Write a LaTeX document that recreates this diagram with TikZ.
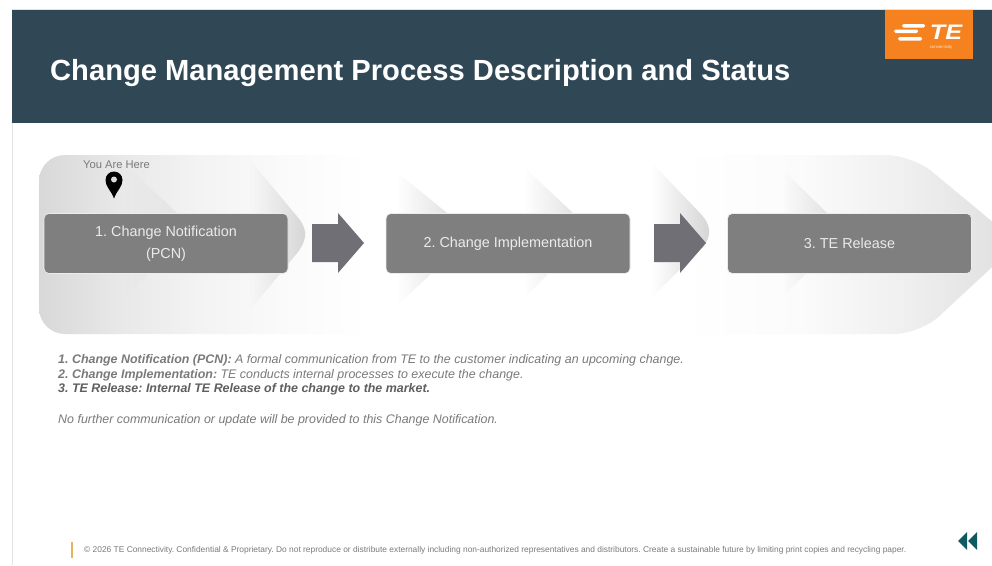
\documentclass[tikz,border=0pt]{standalone}
\usepackage{fontspec}
\setmainfont{Liberation Sans}
\usetikzlibrary{fadings}
\frenchspacing
\definecolor{headbg}{HTML}{304755}
\definecolor{logoor}{HTML}{F5821F}
\definecolor{boxgr}{HTML}{7F7F7F}
\definecolor{arrgr}{HTML}{6F6F75}
\definecolor{foldgr}{HTML}{D4D4D4}
\definecolor{foldlt}{HTML}{E4E4E4}
\definecolor{txtgr}{HTML}{7A7A7A}
\definecolor{txtdk}{HTML}{5F5F5F}
\definecolor{teal0}{HTML}{0F5A60}
\definecolor{barye}{HTML}{E8B35A}
\definecolor{edgegr}{HTML}{E2E2E2}
\definecolor{b0}{HTML}{D8D8D8}
\definecolor{b1}{HTML}{E8E8E8}
\definecolor{b2}{HTML}{F3F3F3}
\definecolor{b3}{HTML}{FAFAFA}
\definecolor{b4}{HTML}{FEFEFE}
\definecolor{r1}{HTML}{FBFBFB}
\definecolor{r2}{HTML}{F0F0F0}
\definecolor{r3}{HTML}{DEDEDE}
\pgfdeclarehorizontalshading{basegrad}{100bp}{color(0bp)=(b0); color(25bp)=(b0); color(29.1bp)=(b1); color(33.2bp)=(b2); color(37.3bp)=(b3); color(40.9bp)=(b4); color(41.9bp)=(white); color(57.7bp)=(white); color(63.9bp)=(r1); color(69bp)=(r2); color(75bp)=(r3); color(100bp)=(r3)}
\tikzfading[name=foldfade, left color=transparent!100, middle color=transparent!78, right color=transparent!0]
\tikzset{
  fold/.style={fill=foldgr, path fading=foldfade},
  foldsoft/.style={fill=foldlt, path fading=foldfade},
  stagebox/.style={draw=white!85!boxgr, line width=0.6pt, fill=boxgr, rounded corners=5pt, minimum width=244pt, minimum height=60pt, inner sep=0pt, align=center, text=white!92!black, font=\fontsize{14.4}{22}\selectfont},
  blockarrow/.style={fill=arrgr},
  desc/.style={anchor=west, inner sep=0pt, text=txtgr, font=\fontsize{12.44}{14}\selectfont\itshape},
}
\begin{document}
\begin{tikzpicture}[x=1pt,y=-1pt]
\useasboundingbox (0,0) rectangle (992,565);
\fill[white] (0,0) rectangle (992,565);
% slide edges
\fill[edgegr] (12,9) rectangle (992,10);
\fill[edgegr] (12,123) rectangle (12.8,565);
% header
\fill[headbg] (12,10) rectangle (992,123);
\node[anchor=west, inner sep=0pt, text=white, font=\fontsize{29.15}{32}\selectfont\bfseries] (title) at (50,73.5) {Change Management Process Description and Status};
% logo
\fill[logoor] (885,10) rectangle (973,59);
\fill[white,rounded corners=1.5pt] (902,24) rectangle (925,27.5);
\fill[white,rounded corners=1.5pt] (894,29.5) rectangle (918,33);
\fill[white,rounded corners=1.5pt] (898,37) rectangle (922,40.5);
\node[inner sep=0pt, text=white, font=\fontsize{21}{21}\selectfont\bfseries\itshape] (logote) at (946,32) {\scalebox{1.2}[1]{TE}};
\node[inner sep=0pt, text=white!80!logoor, font=\fontsize{4.3}{5}\selectfont] (logosub) at (941,47.5) {connectivity};
% background band
\begin{scope}
\clip (0,0) rectangle (992,565);
\shade[shading=basegrad, rounded corners=26pt] (39,155) -- (912,155) -- (1018,243) -- (920,334) -- (39,334) -- cycle;
\end{scope}
% folds
\path[foldsoft] (125,165) -- (177,213) -- (150,273) -- (125,295) -- cycle;
\path[fold] (250,160) -- (295,214) .. controls (308,228) and (308,238) .. (298,252) -- (250,310) -- cycle;
\path[foldsoft] (397,172) -- (447,213) -- (430,275) -- (397,305) -- cycle;
\path[foldsoft] (524,167) -- (573,213) -- (547,275) -- (524,298) -- cycle;
\path[fold] (652,163) -- (698,211) .. controls (712,225) and (712,235) .. (703,247) -- (652,297) -- cycle;
\path[foldsoft] (783,170) -- (827,213) -- (805,275) -- (783,295) -- cycle;
% stages
\node[stagebox] (s1) at (166,243.5) {\raisebox{-1.5pt}{\begin{tabular}{@{}c@{}}1. Change Notification\\(PCN)\end{tabular}}};
\node[stagebox] (s2) at (508,243.5) {\raisebox{-1pt}{2. Change Implementation}};
\node[stagebox] (s3) at (849.5,243.5) {\raisebox{-0.5pt}{3. TE Release}};
% block arrows
\fill[blockarrow] (312,224) -- (338,224) -- (338,213) -- (364,243) -- (338,273) -- (338,262) -- (312,262) -- cycle;
\fill[blockarrow] (654,224) -- (680,224) -- (680,213) -- (706,243) -- (680,273) -- (680,262) -- (654,262) -- cycle;
% marker
\node[inner sep=0pt, text=txtgr, font=\fontsize{11.2}{12}\selectfont] (here) at (116.5,165) {You Are Here};
\fill[black] (114,198.5) .. controls (111,190) and (105.5,187) .. (105.5,180) arc[start angle=180,end angle=360,radius=8.5] .. controls (122.5,187) and (117,190) .. (114,198.5) -- cycle;
\fill[white!85!black] (114,179.5) circle[radius=3];
% description
\node[desc] (d1) at (58,360.5) {\textbf{1. Change Notification (PCN):} A formal communication from TE to the customer indicating an upcoming change.};
\node[desc] (d2) at (58,375) {\textbf{2. Change Implementation:} TE conducts internal processes to execute the change.};
\node[desc, text=txtdk] (d3) at (58,389.5) {\textbf{3. TE Release: Internal TE Release of the change to the market.}};
\node[desc] (d4) at (58,420) {No further communication or update will be provided to this Change Notification.};
% footer
\fill[barye] (70.8,542) rectangle (72.6,558);
\node[anchor=west, inner sep=0pt, text=txtgr, font=\fontsize{8.39}{9}\selectfont] (foot) at (84,550) {© 2026 TE Connectivity. Confidential \& Proprietary. Do not reproduce or distribute externally including non-authorized representatives and distributors. Create a sustainable future by limiting print copies and recycling paper.};
\fill[teal0] (958,541) -- (967,532) -- (967,550) -- cycle;
\fill[teal0] (968,541) -- (977,532) -- (977,550) -- cycle;
\end{tikzpicture}
\end{document}
